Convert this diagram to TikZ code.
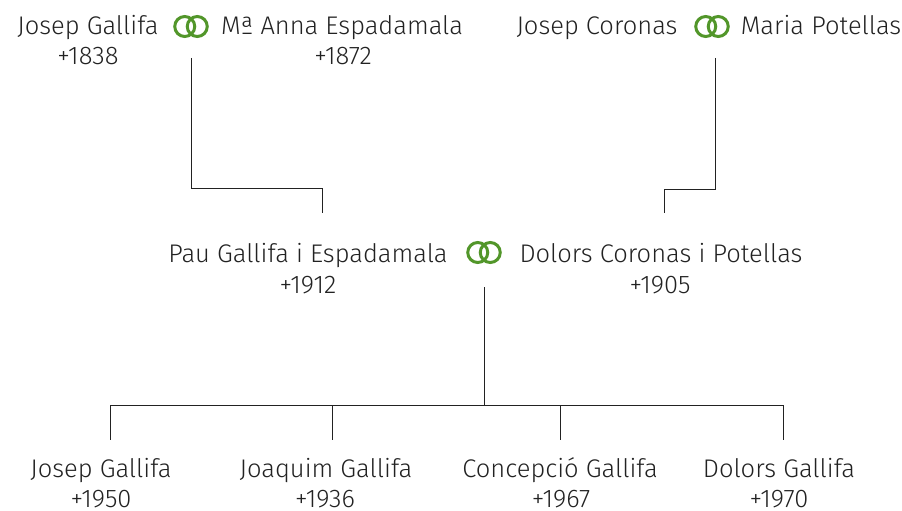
\documentclass[tikz,border=0pt]{standalone}
\usepackage{fontspec}
\setmainfont{Fira Sans Light}
\usepackage{xcolor}
\usetikzlibrary{positioning}
\definecolor{verdanella}{RGB}{82,150,42}
\definecolor{tinta}{RGB}{34,34,34}

\begin{document}
\begin{tikzpicture}[x=1pt,y=-1pt,
  nom/.style={anchor=base,inner sep=0pt,text=tinta,font=\fontsize{25.5}{30}\selectfont},
  anells/.style={draw=verdanella,line width=3pt},
  branca/.style={draw=tinta,line width=0.9pt}]
\useasboundingbox (0,0) rectangle (902,511);

% avis paterns
\node[nom] (jg) at (88,35) {Josep Gallifa};
\node[nom] (jgany) at (88,65) {+1838};
\node[nom] (ae) at (342,35) {Mª Anna Espadamala};
\node[nom] (aeany) at (343,65) {+1872};
\node (nup1) at (191,26.5) {};
\draw[anells] (nup1.center) ++(-6.25,0) circle (10) ++(12.5,0) circle (10);

% avis materns
\node[nom] (jc) at (597,35) {Josep Coronas};
\node[nom] (mp) at (821,35) {Maria Potellas};
\node (nup2) at (712,26.5) {};
\draw[anells] (nup2.center) ++(-6.25,0) circle (10) ++(12.5,0) circle (10);

% pares
\node[nom] (pg) at (308,262) {Pau Gallifa i Espadamala};
\node[nom] (pgany) at (308,293) {+1912};
\node[nom] (dc) at (661,262) {Dolors Coronas i Potellas};
\node[nom] (dcany) at (660,293) {+1905};
\node (nup3) at (484,252.5) {};
\draw[anells] (nup3.center) ++(-6.25,0) circle (10) ++(12.5,0) circle (10);

% fills
\node[nom] (f1) at (101,477) {Josep Gallifa};
\node[nom] (f1any) at (101,507.5) {+1950};
\node[nom] (f2) at (326,477) {Joaquim Gallifa};
\node[nom] (f2any) at (325,507.5) {+1936};
\node[nom] (f3) at (560,477) {Concepció Gallifa};
\node[nom] (f3any) at (561,507.5) {+1967};
\node[nom] (f4) at (779,477) {Dolors Gallifa};
\node[nom] (f4any) at (779,507.5) {+1970};

% branques
\coordinate (nup1b) at (191,58);
\coordinate (pgdalt) at (322,213);
\coordinate (nup2b) at (715,58);
\coordinate (dcdalt) at (664,213);
\draw[branca] (nup1b) -- ++(0,130) -| (pgdalt);
\draw[branca] (nup2b) -- ++(0,131) -| (dcdalt);

\coordinate (nup3b) at (484,287);
\coordinate (forquilla) at (484,405);
\coordinate (b1) at (110,440);
\coordinate (b2) at (332,440);
\coordinate (b3) at (560,440);
\coordinate (b4) at (783,440);
\draw[branca] (nup3b) -- (forquilla);
\foreach \b in {b1,b2,b3,b4}
  \draw[branca] (forquilla) -| (\b);
\end{tikzpicture}
\end{document}
